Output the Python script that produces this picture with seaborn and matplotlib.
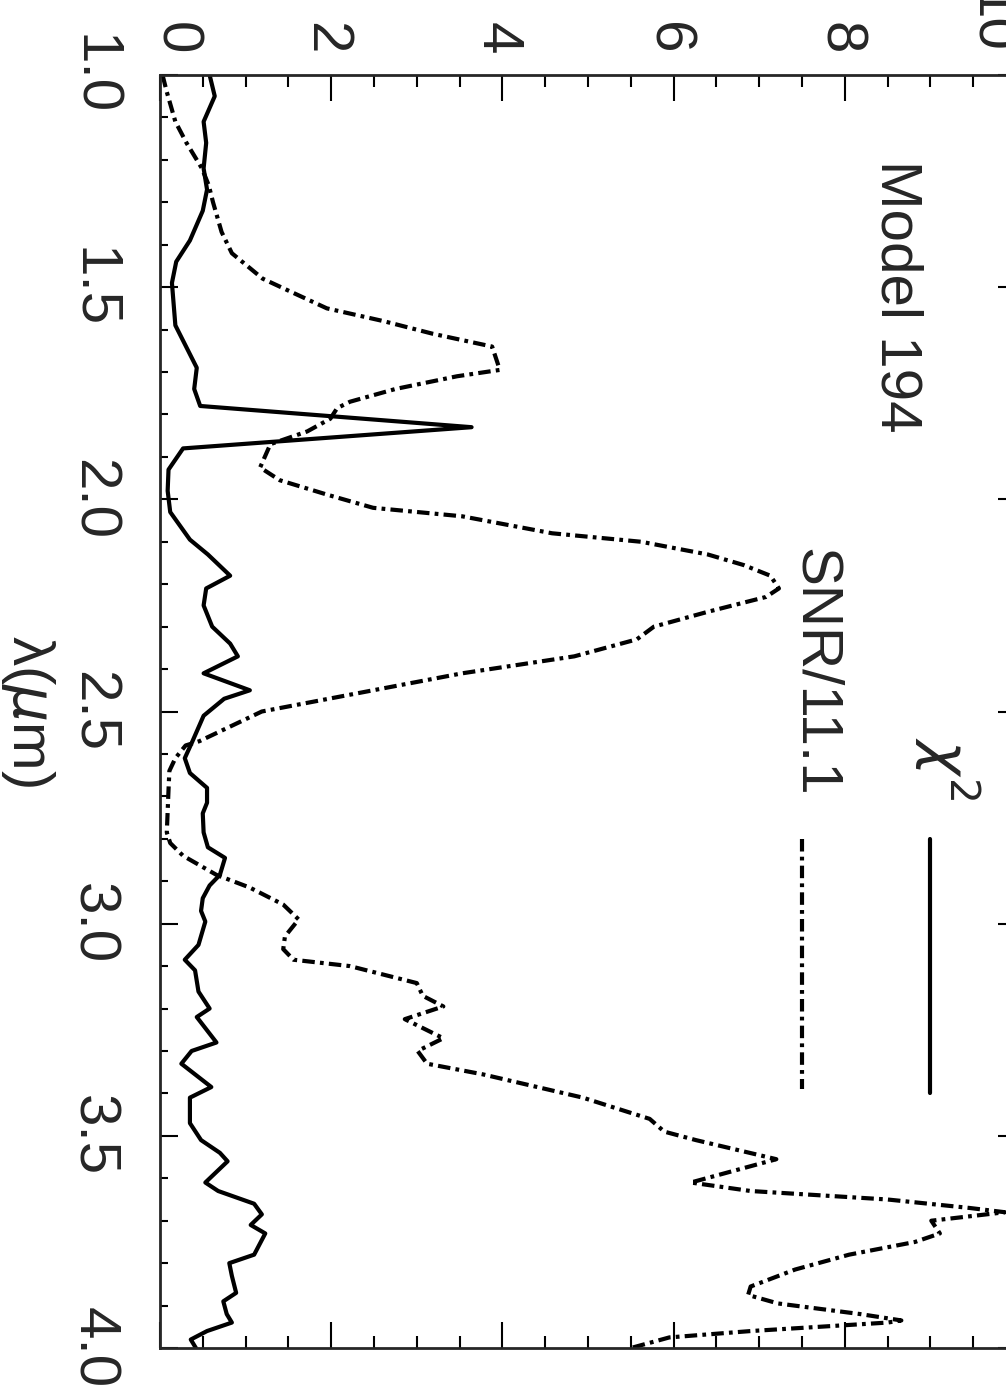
import numpy as np
import matplotlib
matplotlib.use('Agg')
import matplotlib.pyplot as plt
import seaborn as sns

# chi^2 curve (solid): wavelength in micron, value
chi_wl = [1.00, 1.05, 1.11, 1.16, 1.22, 1.27, 1.32, 1.39, 1.44, 1.49, 1.59, 1.69,
          1.74, 1.78, 1.83, 1.88, 1.93, 1.98, 2.03, 2.095, 2.13, 2.18, 2.21, 2.25,
          2.30, 2.34, 2.37, 2.41, 2.45, 2.47, 2.51, 2.57, 2.61, 2.645, 2.68, 2.715,
          2.74, 2.785, 2.82, 2.845, 2.885, 2.91, 2.94, 2.97, 2.995, 3.05, 3.085, 3.11,
          3.16, 3.20, 3.22, 3.28, 3.30, 3.33, 3.385, 3.41, 3.47, 3.51, 3.54, 3.56,
          3.61, 3.63, 3.66, 3.685, 3.71, 3.73, 3.78, 3.80, 3.83, 3.87, 3.89, 3.92,
          3.94, 3.96, 3.98, 4.00]
chi_val = [0.58, 0.64, 0.51, 0.54, 0.51, 0.55, 0.50, 0.35, 0.19, 0.14, 0.18, 0.43,
           0.40, 0.47, 3.64, 0.27, 0.10, 0.09, 0.12, 0.35, 0.56, 0.82, 0.54, 0.51,
           0.61, 0.82, 0.91, 0.51, 1.05, 0.75, 0.51, 0.38, 0.29, 0.35, 0.55, 0.55,
           0.50, 0.51, 0.56, 0.76, 0.70, 0.58, 0.50, 0.48, 0.53, 0.45, 0.29, 0.41,
           0.45, 0.58, 0.43, 0.66, 0.37, 0.25, 0.60, 0.35, 0.35, 0.48, 0.70, 0.79,
           0.53, 0.68, 1.10, 1.19, 1.06, 1.23, 1.10, 0.81, 0.84, 0.89, 0.74, 0.78,
           0.84, 0.55, 0.36, 0.42]

# SNR/11.1 curve (dash-dot)
snr_wl = [1.00, 1.04, 1.11, 1.16, 1.22, 1.26, 1.30, 1.37, 1.42, 1.44, 1.48, 1.51,
          1.55, 1.58, 1.61, 1.64, 1.695, 1.71, 1.74, 1.77, 1.785, 1.81, 1.84, 1.87,
          1.925, 1.955, 1.99, 2.02, 2.04, 2.08, 2.10, 2.13, 2.155, 2.18, 2.21, 2.23,
          2.265, 2.30, 2.33, 2.37, 2.41, 2.46, 2.50, 2.57, 2.58, 2.61, 2.64, 2.685,
          2.785, 2.81, 2.84, 2.885, 2.915, 2.955, 2.99, 3.03, 3.06, 3.085, 3.10, 3.14,
          3.17, 3.195, 3.225, 3.27, 3.30, 3.33, 3.355, 3.41, 3.46, 3.49, 3.51, 3.555,
          3.61, 3.63, 3.65, 3.67, 3.68, 3.70, 3.73, 3.75, 3.78, 3.815, 3.855, 3.875,
          3.895, 3.92, 3.935, 3.94, 3.96, 3.975, 4.00]
snr_val = [0.03, 0.08, 0.18, 0.31, 0.49, 0.57, 0.62, 0.72, 0.84, 0.96, 1.20, 1.52,
           1.95, 2.61, 3.19, 3.88, 3.97, 3.47, 2.75, 2.22, 2.07, 1.99, 1.72, 1.29,
           1.17, 1.40, 1.97, 2.49, 3.53, 4.58, 5.62, 6.40, 6.82, 7.13, 7.23, 7.08,
           6.40, 5.77, 5.57, 4.84, 3.53, 2.23, 1.19, 0.46, 0.30, 0.18, 0.11, 0.10,
           0.08, 0.12, 0.27, 0.66, 1.05, 1.44, 1.62, 1.46, 1.44, 1.56, 2.22, 3.00,
           3.07, 3.31, 2.86, 3.31, 3.01, 3.12, 3.77, 4.94, 5.72, 5.89, 6.26, 7.20,
           6.20, 6.90, 8.50, 9.46, 9.87, 9.01, 9.11, 8.82, 8.05, 7.42, 6.90, 6.87,
           7.22, 8.18, 8.66, 8.50, 6.90, 5.95, 5.50]

val_ticks = [0, 2, 4, 6, 8, 10]
val_labels = ['0', '2', '4', '6', '8', '10']
wl_ticks = [1.0, 1.5, 2.0, 2.5, 3.0, 3.5, 4.0]
wl_labels = ['1.0', '1.5', '2.0', '2.5', '3.0', '3.5', '4.0']

sns.set_style('ticks')
plt.rcParams['font.family'] = ['Liberation Sans', 'DejaVu Sans']
plt.rcParams['mathtext.fontset'] = 'dejavusans'
plt.rcParams['axes.linewidth'] = 2

FS = 42
LW = 3.0
dashdot = (0, (3, 1.25, 0.9, 1.25))

# the page is turned on its side: wavelength runs down, values run right
fig = plt.figure(figsize=(10.06, 13.86), dpi=100)
ax = fig.add_axes([0.159, 0.0274, 0.851, 0.9185])

sns.lineplot(x=chi_val, y=chi_wl, orient='y', sort=False, estimator=None,
             color='black', lw=LW, ax=ax)
sns.lineplot(x=snr_val, y=snr_wl, orient='y', sort=False, estimator=None,
             color='black', lw=LW, linestyle=dashdot, ax=ax)

ax.set_xlim(0, 10)
ax.set_ylim(4.0, 1.0)
ax.set_xticks(val_ticks, val_labels)
ax.set_xticks(np.arange(0, 10.01, 0.5), minor=True)
ax.set_yticks(wl_ticks, wl_labels)
ax.set_yticks(np.arange(1.0, 4.001, 0.1), minor=True)

ax.tick_params(which='both', direction='in', top=True, bottom=True,
               left=True, right=True, width=1.5, color='black')
ax.tick_params(axis='x', labeltop=True, labelbottom=False, pad=15, labelsize=FS)
ax.tick_params(axis='x', which='major', length=18.7)
ax.tick_params(axis='x', which='minor', length=8.6)
ax.tick_params(axis='y', which='major', length=13, pad=29, labelsize=FS)
ax.tick_params(axis='y', which='minor', length=5.8)

# end labels of the value axis are pushed inward, as in the original
n_val = len(val_ticks)
for i, t in enumerate(ax.xaxis.get_major_ticks()):
    va = 'center_baseline'
    if i == 0:
        va = 'baseline'
    elif i == n_val - 1:
        va = 'top'
    t.label2.set(rotation=-90, rotation_mode='anchor', ha='right', va=va)
for t in ax.yaxis.get_major_ticks():
    t.label1.set(rotation=-90, rotation_mode='anchor', ha='center', va='top')

ax.set_xlabel('')
ax.set_ylabel('λ($\\mu$m)', fontsize=FS, rotation=-90, ha='center', va='top')
ax.yaxis.set_label_coords(-0.12, 0.5)

# annotations and legend keys
ax.text(8.43, 1.20, 'Model 194', fontsize=FS, rotation=-90,
        rotation_mode='anchor', ha='left', va='baseline')
ax.text(7.48, 2.70, 'SNR/11.1', fontsize=FS, rotation=-90,
        rotation_mode='anchor', ha='right', va='baseline')
ax.text(8.95, 2.71, r'$\chi^2$', fontsize=FS, rotation=-90,
        rotation_mode='anchor', ha='right', va='baseline')
ax.plot([9.0, 9.0], [2.80, 3.40], color='black', lw=LW)
ax.plot([7.5, 7.5], [2.80, 3.39], color='black', lw=LW, linestyle=dashdot)

fig.savefig('out.png', dpi=100)
